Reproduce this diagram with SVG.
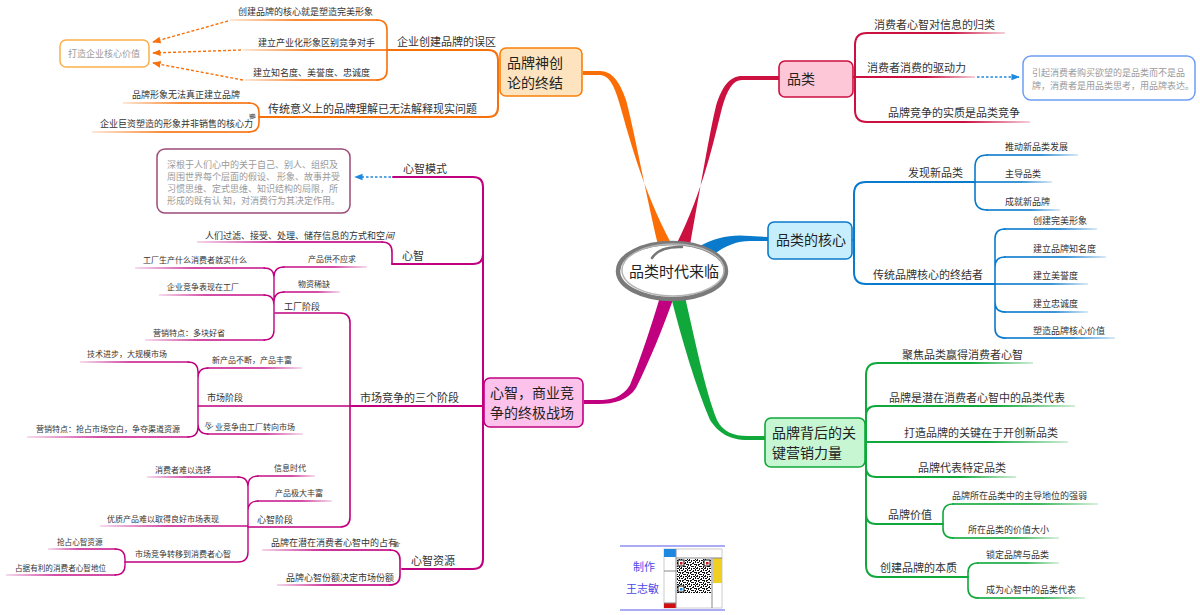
<svg xmlns="http://www.w3.org/2000/svg" width="1200" height="615" viewBox="0 0 1200 615">
<style>
text{font-family:"Noto Sans CJK SC","Noto Sans",sans-serif;fill:#333}
.n{font-size:14px;fill:#222}
.t1{font-size:11px}
.t2{font-size:9px}
.t3{font-size:8px}
.t4{font-size:7.6px}
.c{font-size:9px;fill:#9a9a9a}
.l{fill:none;stroke-linecap:round}
.r1{stroke:#cc1040;stroke-width:2}
.b1{stroke:#0a7acc;stroke-width:2}
.b2{stroke:#0a7acc;stroke-width:1.6}
.g1{stroke:#10a83a;stroke-width:2}
.g2{stroke:#10a83a;stroke-width:1.6}
.o1{stroke:#f8700a;stroke-width:2}
.o2{stroke:#f8700a;stroke-width:1.6}
.m1{stroke:#c0007f;stroke-width:2}
.m2{stroke:#c0007f;stroke-width:1.6}
.m3{stroke:#c0007f;stroke-width:1.4}
</style>
<defs>
<linearGradient id="gR"><stop offset="0" stop-color="#cc1040"/><stop offset=".6" stop-color="#cc1040"/><stop offset="1" stop-color="#cc1040" stop-opacity=".2"/></linearGradient>
<linearGradient id="gB"><stop offset="0" stop-color="#0a7acc"/><stop offset=".6" stop-color="#0a7acc"/><stop offset="1" stop-color="#0a7acc" stop-opacity=".2"/></linearGradient>
<linearGradient id="gG"><stop offset="0" stop-color="#10a83a"/><stop offset=".6" stop-color="#10a83a"/><stop offset="1" stop-color="#10a83a" stop-opacity=".2"/></linearGradient>
<linearGradient id="gOL" x1="1" x2="0"><stop offset="0" stop-color="#f8700a"/><stop offset=".55" stop-color="#f8700a"/><stop offset="1" stop-color="#f8700a" stop-opacity=".2"/></linearGradient>
<linearGradient id="gM"><stop offset="0" stop-color="#c0007f"/><stop offset=".6" stop-color="#c0007f"/><stop offset="1" stop-color="#c0007f" stop-opacity=".2"/></linearGradient>
<linearGradient id="gML" x1="1" x2="0"><stop offset="0" stop-color="#c0007f"/><stop offset=".55" stop-color="#c0007f"/><stop offset="1" stop-color="#c0007f" stop-opacity=".2"/></linearGradient>
<marker id="aB" viewBox="0 0 10 10" refX="9" refY="5" markerWidth="6" markerHeight="6" orient="auto"><path d="M0,1 L10,5 L0,9 Z" fill="#1e88e0"/></marker>
<marker id="aO" viewBox="0 0 10 10" refX="9" refY="5" markerWidth="6" markerHeight="6" orient="auto"><path d="M0,1 L10,5 L0,9 Z" fill="#f8700a"/></marker>
<pattern id="qr" width="8" height="8" patternUnits="userSpaceOnUse"><rect width="8" height="8" fill="#fff"/><path d="M0,0h2v1h-2z M3,0h1v2h-1z M5,0h2v1h-2z M1,2h2v1h-2z M5,2h1v2h-1z M7,1h1v2h-1z M0,4h1v2h-1z M2,4h2v1h-2z M6,4h2v1h-2z M3,6h3v1h-3z M1,7h1v1h-1z M7,6h1v2h-1z M4,3h1v1h-1z M2,5h1v1h-1z" fill="#111"/></pattern>
</defs>

<g id="connectors">
<path d="M658,245 C644,185 633,125 626,100 C620,82 612,71 600,71 L583,71 L583,75 L600,75 C608,75 614,84 619,102 C627,128 640,185 672,245 Z" fill="#fb6e05"/>
<path d="M690,245 C700,190 710,130 716,106 C722,86 730,76 742,76 L779,76 L779,80 L742,80 C733,80 727,90 722,108 C715,135 704,190 676,245 Z" fill="#cc1040"/>
<path d="M698,247 C716,237 732,234 750,236 L769,237 L769,241 L750,241 C738,241 725,245 712,256 Z" fill="#0a7acc"/>
<path d="M660,297 C650,330 640,360 630,385 C622,398 610,400 598,400 L584,400 L584,404 L598,404 C615,404 628,400 636,388 C650,360 662,330 674,297 Z" fill="#c0007f"/>
<path d="M685,297 C695,340 705,390 717,420 C723,432 733,436 748,436 L766,436 L766,440 L748,440 C728,440 718,432 710,420 C695,385 682,340 671,297 Z" fill="#10a83a"/>

<path class="l r1" d="M867,33 Q855,33 855,45 V110 Q855,122 867,122"/>
<rect x="866" y="32" width="139" height="2" fill="url(#gR)"/>
<rect x="853" y="76" width="122" height="2" fill="url(#gR)"/>
<rect x="866" y="121" width="164" height="2" fill="url(#gR)"/>
<path d="M977,77 H1019" stroke="#1e88e0" stroke-width="1.4" stroke-dasharray="2.5,2" fill="none" marker-end="url(#aB)"/>

<path class="l b1" d="M852,240 H854 M866,182 Q854,182 854,194 V272 Q854,284 866,284"/>
<path class="l b1" d="M866,182 H975 M866,284 H995"/>
<path class="l b2" d="M987,155 Q975,155 975,167 V198 Q975,210 987,210"/>
<rect x="986" y="154.2" width="92" height="1.6" fill="url(#gB)"/>
<rect x="975" y="181.2" width="77" height="1.6" fill="url(#gB)"/>
<rect x="986" y="209.2" width="74" height="1.6" fill="url(#gB)"/>
<path class="l b2" d="M1005,229 Q995,229 995,239 V328 Q995,338 1005,338 M995,267 Q995,257 1005,257 M995,302 Q995,312 1005,312"/>
<rect x="1004" y="228.2" width="93" height="1.6" fill="url(#gB)"/>
<rect x="1004" y="256.2" width="102" height="1.6" fill="url(#gB)"/>
<rect x="995" y="283.2" width="93" height="1.6" fill="url(#gB)"/>
<rect x="1004" y="311.2" width="84" height="1.6" fill="url(#gB)"/>
<rect x="1004" y="337.2" width="111" height="1.6" fill="url(#gB)"/>

<path class="l g1" d="M878,363 Q866,363 866,375 V565 Q866,577 878,577 M866,416 Q866,406 876,406 M866,467 Q866,477 876,477 M866,514 Q866,524 876,524 H943 M878,577 H968"/>
<rect x="877" y="362" width="156" height="2" fill="url(#gG)"/>
<rect x="875" y="405" width="200" height="2" fill="url(#gG)"/>
<rect x="865" y="441" width="203" height="2" fill="url(#gG)"/>
<rect x="875" y="476" width="141" height="2" fill="url(#gG)"/>
<path class="l g2" d="M953,504 Q943,504 943,514 V528 Q943,538 953,538"/>
<rect x="952" y="503.2" width="146" height="1.6" fill="url(#gG)"/>
<rect x="952" y="537.2" width="107" height="1.6" fill="url(#gG)"/>
<path class="l g2" d="M978,563 Q968,563 968,573 V588 Q968,598 978,598"/>
<rect x="977" y="562.2" width="82" height="1.6" fill="url(#gG)"/>
<rect x="977" y="597.2" width="108" height="1.6" fill="url(#gG)"/>

<path class="l o1" d="M488,50 Q498,50 498,60 V107 Q498,117 488,117 M488,50 H387 M488,117 H259"/>
<path class="l o2" d="M377,20 Q387,20 387,30 V70 Q387,80 377,80"/>
<rect x="230" y="19.2" width="148" height="1.6" fill="url(#gOL)"/>
<rect x="243" y="49.2" width="144" height="1.6" fill="url(#gOL)"/>
<rect x="245" y="79.2" width="133" height="1.6" fill="url(#gOL)"/>
<path class="l o2" d="M249,103 Q259,103 259,113 V122 Q259,132 249,132"/>
<rect x="123" y="102.2" width="127" height="1.6" fill="url(#gOL)"/>
<rect x="92" y="131.2" width="158" height="1.6" fill="url(#gOL)"/>
<path d="M228,21 L153,42" stroke="#f8700a" stroke-width="1.4" stroke-dasharray="3,2" fill="none" marker-end="url(#aO)"/>
<path d="M241,50 L153,53" stroke="#f8700a" stroke-width="1.4" stroke-dasharray="3,2" fill="none" marker-end="url(#aO)"/>
<path d="M243,80 L153,63" stroke="#f8700a" stroke-width="1.4" stroke-dasharray="3,2" fill="none" marker-end="url(#aO)"/>

<path class="l m1" d="M393,177 H473 Q483,177 483,187 V559 Q483,569 473,569 H402 M483,254 Q483,264 473,264 H392 M483,406 H350"/>
<path d="M391,177 H355" stroke="#1e88e0" stroke-width="1.4" stroke-dasharray="2.5,2" fill="none" marker-end="url(#aB)"/>
<path class="l m2" d="M392,264 V252 Q392,242 382,242"/>
<rect x="197" y="241.2" width="186" height="1.6" fill="url(#gML)"/>
<path class="l m2" d="M275,313 H340 Q350,313 350,323 V517 Q350,527 340,527 H248 M198,406 H350"/>
<path class="l m3" d="M274,277 V330 M274,277 Q274,267 284,267 M274,277 Q274,268 264,268 M274,302 Q274,292 284,292 M274,305 Q274,295 264,295 M274,330 Q274,340 264,340"/>
<rect x="283" y="266.3" width="84" height="1.4" fill="url(#gM)"/>
<rect x="135" y="267.3" width="130" height="1.4" fill="url(#gML)"/>
<rect x="283" y="291.3" width="57" height="1.4" fill="url(#gM)"/>
<rect x="159" y="294.3" width="106" height="1.4" fill="url(#gML)"/>
<rect x="145" y="339.3" width="120" height="1.4" fill="url(#gML)"/>
<path class="l m3" d="M198,372 V427 M198,372 Q198,362 188,362 M198,378 Q198,368 208,368 M198,427 Q198,437 188,437 M198,424 Q198,434 208,434"/>
<rect x="80" y="361.3" width="109" height="1.4" fill="url(#gML)"/>
<rect x="207" y="367.3" width="95" height="1.4" fill="url(#gM)"/>
<rect x="27" y="436.3" width="162" height="1.4" fill="url(#gML)"/>
<rect x="207" y="433.3" width="96" height="1.4" fill="url(#gM)"/>
<path class="l m3" d="M248,486 V552 Q248,562 238,562 H125 M248,486 Q248,476 258,476 M248,487 Q248,477 238,477 M248,511 Q248,501 258,501"/>
<rect x="257" y="475.3" width="58" height="1.4" fill="url(#gM)"/>
<rect x="147" y="476.3" width="92" height="1.4" fill="url(#gML)"/>
<rect x="257" y="500.3" width="75" height="1.4" fill="url(#gM)"/>
<rect x="100" y="525.3" width="148" height="1.4" fill="url(#gML)"/>
<path class="l m3" d="M115,549 Q125,549 125,559 V565 Q125,575 115,575"/>
<rect x="48" y="548.3" width="68" height="1.4" fill="url(#gML)"/>
<rect x="6" y="574.3" width="110" height="1.4" fill="url(#gML)"/>
<path class="l m2" d="M390,550 Q400,550 400,560 V575 Q400,585 390,585"/>
<rect x="262" y="549.2" width="129" height="1.6" fill="url(#gML)"/>
<rect x="277" y="584.2" width="114" height="1.6" fill="url(#gML)"/>
</g>

<g id="node-center">
<ellipse cx="672" cy="271" rx="54" ry="28" fill="#fff" stroke="#7a7a7a" stroke-width="4.5"/>
<ellipse cx="673" cy="270" rx="51" ry="26" fill="none" stroke="#b5b5b5" stroke-width="1.5"/>
<path d="M652,258 Q660,246 682,247" fill="none" stroke="#777" stroke-width="2.5" stroke-linecap="round"/>
<text x="674" y="277" class="n" text-anchor="middle" style="font-size:15px">品类时代来临</text>
</g>

<g id="node-pinlei">
<rect x="779" y="61" width="74" height="36" rx="6" fill="#fdc7d7" stroke="#cc1040" stroke-width="1.6"/>
<text x="787" y="84" class="n">品类</text>
<text x="874" y="29" class="t1">消费者心智对信息的归类</text>
<text x="867" y="72" class="t1">消费者消费的驱动力</text>
<text x="888" y="117" class="t1">品牌竞争的实质是品类竞争</text>
</g>
<g id="note-pinlei">
<rect x="1023" y="56" width="172" height="44" rx="8" fill="#fff" stroke="#6d9ef5" stroke-width="1.5"/>
<text x="1032" y="76" class="c">引起消费者购买欲望的是品类而不是品</text>
<text x="1032" y="89" class="c">牌，消费者是用品类思考，用品牌表达。</text>
</g>

<g id="node-core">
<rect x="768" y="222" width="84" height="37" rx="6" fill="#c6eefc" stroke="#0a7acc" stroke-width="1.6"/>
<text x="776" y="245" class="n">品类的核心</text>
<text x="908" y="177" class="t1">发现新品类</text>
<text x="873" y="279" class="t1">传统品牌核心的终结者</text>
<text x="1005" y="150" class="t2">推动新品类发展</text>
<text x="1005" y="177" class="t2">主导品类</text>
<text x="1005" y="205" class="t2">成就新品牌</text>
<text x="1033" y="224" class="t2">创建完美形象</text>
<text x="1033" y="252" class="t2">建立品牌知名度</text>
<text x="1033" y="279" class="t2">建立美誉度</text>
<text x="1033" y="307" class="t2">建立忠诚度</text>
<text x="1033" y="334" class="t2">塑造品牌核心价值</text>
</g>

<g id="node-power">
<rect x="765" y="418" width="100" height="49" rx="6" fill="#c6f6d2" stroke="#10a83a" stroke-width="1.6"/>
<text x="772" y="438" class="n">品牌背后的关</text>
<text x="772" y="458" class="n">键营销力量</text>
<text x="902" y="359" class="t1">聚焦品类赢得消费者心智</text>
<text x="889" y="402" class="t1">品牌是潜在消费者心智中的品类代表</text>
<text x="904" y="437" class="t1">打造品牌的关键在于开创新品类</text>
<text x="918" y="472" class="t1">品牌代表特定品类</text>
<text x="888" y="519" class="t1">品牌价值</text>
<text x="880" y="572" class="t1">创建品牌的本质</text>
<text x="952" y="499" class="t2">品牌所在品类中的主导地位的强弱</text>
<text x="968" y="533" class="t2">所在品类的价值大小</text>
<text x="986" y="558" class="t2">锁定品牌与品类</text>
<text x="986" y="593" class="t2">成为心智中的品类代表</text>
</g>

<g id="node-myth">
<rect x="500" y="48" width="82" height="48" rx="6" fill="#fde3be" stroke="#f8800a" stroke-width="1.6"/>
<text x="507" y="68" class="n">品牌神创</text>
<text x="507" y="88" class="n">论的终结</text>
<text x="397" y="46" class="t1">企业创建品牌的误区</text>
<text x="268" y="113" class="t1">传统意义上的品牌理解已无法解释现实问题</text>
<text x="238" y="15" class="t2">创建品牌的核心就是塑造完美形象</text>
<text x="258" y="46" class="t2">建立产业化形象区别竞争对手</text>
<text x="253" y="76" class="t2">建立知名度、美誉度、忠诚度</text>
<text x="132" y="98" class="t2">品牌形象无法真正建立品牌</text>
<text x="100" y="127" class="t2">企业巨资塑造的形象并非销售的核心力</text>
<text x="249" y="118" class="t2" style="font-size:6.5px" transform="rotate(80 252 116)">量</text>
</g>
<g id="note-myth">
<rect x="60" y="40" width="89" height="27" rx="6" fill="#fff" stroke="#f9b04a" stroke-width="1.5"/>
<text x="68" y="57" class="c">打造企业核心价值</text>
</g>

<g id="node-mind">
<rect x="484" y="378" width="99" height="49" rx="6" fill="#fcc2ec" stroke="#c0007f" stroke-width="1.6"/>
<text x="490" y="398" class="n">心智，商业竞</text>
<text x="490" y="418" class="n">争的终极战场</text>
<text x="403" y="173" class="t1">心智模式</text>
<text x="402" y="260" class="t1">心智</text>
<text x="360" y="402" class="t1">市场竞争的三个阶段</text>
<text x="411" y="565" class="t1">心智资源</text>
<text x="205" y="239" class="t2">人们过滤、接受、处理、储存信息的方式和空<tspan font-style="italic">间</tspan></text>
<text x="284" y="310" class="t2">工厂阶段</text>
<text x="207" y="401" class="t2">市场阶段</text>
<text x="257" y="523" class="t2">心智阶段</text>
<text x="271" y="546" class="t2">品牌在潜在消费者心智中的占有</text>
<text x="393" y="547" class="t2" style="font-size:6.5px" transform="rotate(20 396 545)">率</text>
<text x="286" y="581" class="t2">品牌心智份额决定市场份额</text>
<text x="308" y="262" class="t3">产品供不应求</text>
<text x="143" y="263" class="t3">工厂生产什么消费者就买什么</text>
<text x="298" y="287" class="t3">物资稀缺</text>
<text x="167" y="290" class="t3">企业竞争表现在工厂</text>
<text x="153" y="336" class="t3">营销特点：多块好省</text>
<text x="87" y="357" class="t3">技术进步，大规模市场</text>
<text x="212" y="363" class="t3">新产品不断，产品丰富</text>
<text x="36" y="432" class="t3">营销特点：抢占市场空白，争夺渠道资源</text>
<text x="207" y="430" class="t3"><tspan rotate="-35">企</tspan>业竞争由工厂转向市场</text>
<text x="274" y="471" class="t3">信息时代</text>
<text x="155" y="473" class="t3">消费者难以选择</text>
<text x="275" y="496" class="t3">产品极大丰富</text>
<text x="107" y="522" class="t3">优质产品难以取得良好市场表现</text>
<text x="135" y="557" class="t3">市场竞争转移到消费者心智</text>
<text x="57" y="545" class="t4">抢占心智资源</text>
<text x="15" y="571" class="t4">占据有利的消费者心智地位</text>
</g>
<g id="note-mind">
<rect x="157" y="149" width="193" height="64" rx="8" fill="#fff" stroke="#9c4a78" stroke-width="1.5"/>
<text x="167" y="168" class="c">深根于人们心中的关于自己、别人、组织及</text>
<text x="167" y="180" class="c">周围世界每个层面的假设、 形象、故事并受</text>
<text x="167" y="192" class="c">习惯思维、定式思维、知识结构的局限，所</text>
<text x="167" y="204" class="c">形成的既有认 知，对消费行为其决定作用。</text>
</g>

<g id="credit">
<path d="M620,546 H725 M620,610 H725" stroke="#8e8ef5" stroke-width="1.5"/>
<text x="633" y="571" style="font-size:11px;fill:#4a4ae8">制作</text>
<text x="626" y="593" style="font-size:11px;fill:#4a4ae8">王志敏</text>
<rect x="664" y="549" width="58" height="59" fill="#fff" stroke="#ccc"/>
<rect x="664" y="549" width="12" height="8" fill="#1e88e0"/>
<rect x="664" y="603" width="12" height="5" fill="#d01010"/>
<rect x="713" y="558" width="9" height="25" fill="#f0cf20"/>
<path d="M676,549 V608 M712,558 V608 M676,558 H722 M664,571 H676 M664,603 H676" stroke="#888" stroke-width="1" fill="none"/>
<rect x="677" y="559" width="34" height="34" fill="url(#qr)"/>
<rect x="678" y="560" width="6" height="6" fill="#fff" stroke="#111"/>
<rect x="680" y="562" width="2.5" height="2.5" fill="#d01010"/>
<rect x="704" y="560" width="6" height="6" fill="#fff" stroke="#111"/>
<rect x="706" y="562" width="2.5" height="2.5" fill="#d01010"/>
<rect x="678" y="586" width="6" height="6" fill="#fff" stroke="#111"/>
<rect x="680" y="588" width="2.5" height="2.5" fill="#1e88e0"/>
</g>
</svg>
